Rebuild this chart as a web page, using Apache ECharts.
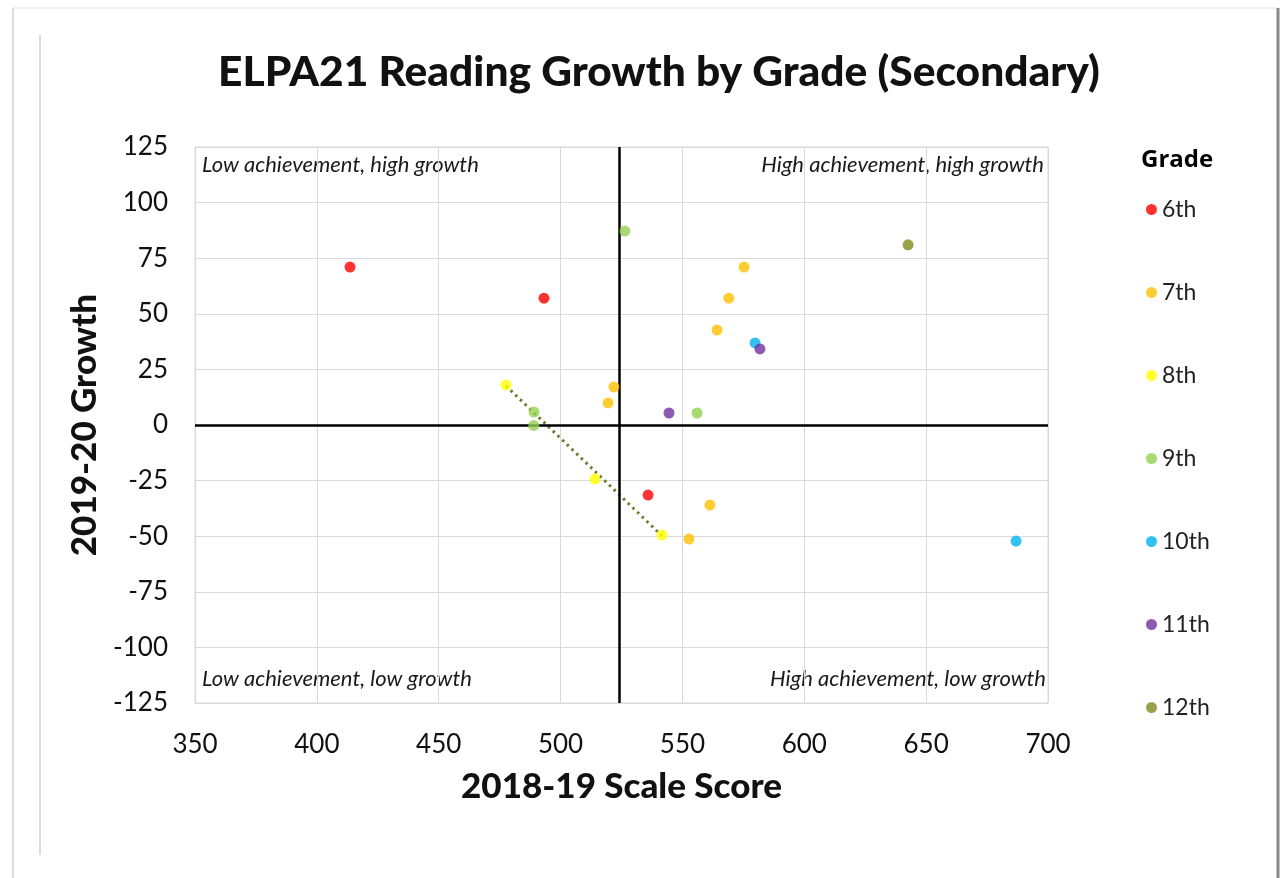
<!DOCTYPE html>
<html>
<head>
<meta charset="utf-8">
<script src="https://cdn.jsdelivr.net/npm/echarts@6/dist/echarts.min.js"></script>
<style>
  html, body { margin: 0; padding: 0; background: #fff; }
  #chart { width: 1281px; height: 878px; }
</style>
</head>
<body>
<div id="chart"></div>
<script>
// grades and their colours
const grades = ['6th', '7th', '8th', '9th', '10th', '11th', '12th'];
const gradeColors = ['#ff0000', '#ffc000', '#ffff00', '#92d050', '#00b0f0', '#7030a0', '#808a1e'];

// [2018-19 scale score, 2019-20 growth] per grade
const grade6 = [[413.6, 71], [493.2, 57], [535.9, -31.5]];
const grade7 = [[575.3, 71], [569, 57], [564.2, 42.7], [521.9, 17.1], [519.5, 9.9], [561.3, -36], [552.7, -51.3]];
const grade8 = [[477.6, 18], [514.1, -24.3], [541.6, -49.5]];
const grade9 = [[526.4, 87.2], [489.1, 5.8], [489, -0.2], [556, 5.4]];
const grade10 = [[579.8, 36.9], [686.9, -52.2]];
const grade11 = [[544.5, 5.4], [581.8, 34.2]];
const grade12 = [[642.6, 81]];
const gradeData = [grade6, grade7, grade8, grade9, grade10, grade11, grade12];

// linear trend line for 8th grade (end points)
const trend8 = [[477.6, 17.6], [541.6, -49.8]];

// quadrant divider lines
const dividerX = 524;
const dividerY = 0;

const xTicks = { min: 350, max: 700, interval: 50 };
const yTicks = { min: -125, max: 125, interval: 25 };

const chart = echarts.init(document.getElementById('chart'));

const series = grades.map((g, i) => ({
  name: g,
  type: 'scatter',
  symbol: 'circle',
  symbolSize: 11,
  itemStyle: { color: gradeColors[i] },
  data: gradeData[i],
  z: 5
}));

series.push({
  name: 'trend',
  type: 'line',
  data: trend8,
  symbol: 'none',
  lineStyle: { color: '#6b7d2c', width: 3, type: [2.5, 4] },
  z: 4,
  markLine: {
    silent: true,
    symbol: 'none',
    label: { show: false },
    lineStyle: { color: '#000', width: 2.5, type: 'solid' },
    data: [{ xAxis: dividerX }, { yAxis: dividerY }]
  }
});

const quadFont = { fontFamily: 'Lato', fontStyle: 'italic', fontSize: 22, fill: '#1a1a1a' };

const option = {
  animation: false,
  backgroundColor: '#fff',
  title: {
    text: 'ELPA21 Reading Growth by Grade (Secondary)',
    left: 654,
    top: 46,
    textAlign: 'center',
    textStyle: { fontFamily: 'Lato', fontWeight: 900, fontSize: 42.5, color: '#111' }
  },
  legend: {
    data: grades,
    orient: 'vertical',
    left: 1141,
    top: 193,
    itemGap: 60,
    itemWidth: 11,
    itemHeight: 11,
    icon: 'circle',
    textStyle: { fontFamily: 'Lato', fontSize: 23, color: '#222', lineHeight: 23 }
  },
  grid: {
    left: 195, top: 147, width: 853, height: 556,
    show: true, borderColor: '#d9d9d9', borderWidth: 1
  },
  xAxis: {
    type: 'value',
    min: xTicks.min, max: xTicks.max, interval: xTicks.interval,
    name: '2018-19 Scale Score',
    nameLocation: 'middle',
    nameGap: 66,
    nameTextStyle: { fontFamily: 'Lato', fontWeight: 900, fontSize: 35, color: '#111' },
    axisLine: { show: false },
    axisTick: { show: false },
    axisLabel: { fontFamily: 'Lato', fontSize: 26, color: '#111', margin: 29 },
    splitLine: { lineStyle: { color: '#d9d9d9', width: 1 } }
  },
  yAxis: {
    type: 'value',
    min: yTicks.min, max: yTicks.max, interval: yTicks.interval,
    name: '2019-20 Growth',
    nameLocation: 'middle',
    nameGap: 93,
    nameRotate: 90,
    nameTextStyle: { fontFamily: 'Lato', fontWeight: 900, fontSize: 35, color: '#111' },
    axisLine: { show: false },
    axisTick: { show: false },
    axisLabel: { fontFamily: 'Lato', fontSize: 26, color: '#111', margin: 27 },
    splitLine: { lineStyle: { color: '#d9d9d9', width: 1 } }
  },
  graphic: [
    // outer frame with shadow on the right
    { type: 'line', shape: { x1: 13, y1: 8, x2: 1278, y2: 8 }, style: { stroke: '#e3e3e3', lineWidth: 1 } },
    { type: 'line', shape: { x1: 13, y1: 8, x2: 13, y2: 878 }, style: { stroke: '#d0d0d0', lineWidth: 1.5 } },
    { type: 'line', shape: { x1: 1278, y1: 8, x2: 1278, y2: 878 }, style: { stroke: '#8a8a8a', lineWidth: 3 } },
    { type: 'line', shape: { x1: 40, y1: 35, x2: 40, y2: 855 }, style: { stroke: '#d0d0d0', lineWidth: 1.5 } },
    // quadrant labels
    { type: 'text', left: 202, top: 154, style: Object.assign({ text: 'Low achievement, high growth' }, quadFont) },
    { type: 'text', right: 237, top: 154, style: Object.assign({ text: 'High achievement, high growth' }, quadFont) },
    { type: 'text', left: 202, top: 668, style: Object.assign({ text: 'Low achievement, low growth' }, quadFont) },
    { type: 'text', right: 235, top: 668, style: Object.assign({ text: 'High achievement, low growth' }, quadFont) },
    // legend title
    { type: 'text', left: 1141, top: 148, style: { text: 'Grade', fontFamily: 'Open Sans', fontWeight: 'bold', fontSize: 24, fill: '#000' } }
  ],
  series: series
};

chart.setOption(option);
</script>
</body>
</html>
